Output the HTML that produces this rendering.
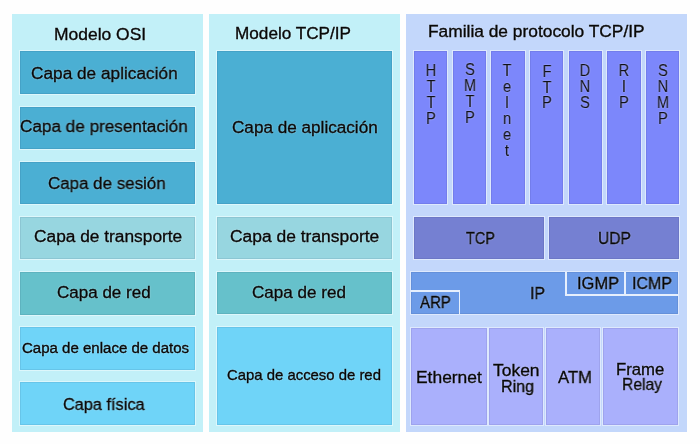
<!DOCTYPE html><html><head><meta charset="utf-8"><style>
html,body{margin:0;padding:0;width:700px;height:444px;overflow:hidden;background:#fefefe}
body{position:relative;font-family:"Liberation Sans",sans-serif;color:#080808;-webkit-text-stroke:0.35px #080808;text-shadow:0 0 1.5px rgba(255,255,255,.75)}
.r{position:absolute}
.b{box-shadow:0 0 0 1px rgba(255,255,255,.45),inset 0 0 0 1px rgba(0,0,40,.07)}
.t{position:absolute;white-space:nowrap;transform-origin:0 0;line-height:1;will-change:transform}
.v{position:absolute;white-space:nowrap;line-height:1;text-align:center;width:40px;transform:scaleX(.92);-webkit-text-stroke:0.1px #101018;color:#101018;will-change:transform}
</style></head><body>
<div class="r" style="left:12px;top:14px;width:191px;height:418px;background:#c2f0f8"></div>
<div class="r" style="left:209px;top:14px;width:191px;height:418px;background:#c2f0f8"></div>
<div class="r" style="left:406px;top:14px;width:281px;height:418px;background:#c3d7fb"></div>
<div class="r b" style="left:20px;top:51px;width:175px;height:43px;background:#4bafd3"></div>
<div class="r b" style="left:20px;top:107px;width:175px;height:42px;background:#4bafd3"></div>
<div class="r b" style="left:20px;top:162px;width:175px;height:42px;background:#4bafd3"></div>
<div class="r b" style="left:20px;top:217px;width:175px;height:42px;background:#97d6e0"></div>
<div class="r b" style="left:20px;top:272px;width:175px;height:43px;background:#66c1cb"></div>
<div class="r b" style="left:20px;top:327px;width:175px;height:43px;background:#6fd4f8"></div>
<div class="r b" style="left:20px;top:382px;width:175px;height:43px;background:#6fd4f8"></div>
<div class="r b" style="left:217px;top:51px;width:175px;height:153px;background:#4bafd3"></div>
<div class="r b" style="left:217px;top:217px;width:175px;height:42px;background:#97d6e0"></div>
<div class="r b" style="left:217px;top:272px;width:175px;height:42.2px;background:#66c1cb"></div>
<div class="r b" style="left:217px;top:327px;width:175px;height:98px;background:#6fd4f8"></div>
<div class="r b" style="left:414px;top:51.4px;width:33.3px;height:152.6px;background:#7c87fb"></div>
<div class="r b" style="left:452.67px;top:51.4px;width:33.3px;height:152.6px;background:#7c87fb"></div>
<div class="r b" style="left:491.34px;top:51.4px;width:33.3px;height:152.6px;background:#7c87fb"></div>
<div class="r b" style="left:530.01px;top:51.4px;width:33.3px;height:152.6px;background:#7c87fb"></div>
<div class="r b" style="left:568.68px;top:51.4px;width:33.3px;height:152.6px;background:#7c87fb"></div>
<div class="r b" style="left:607.35px;top:51.4px;width:33.3px;height:152.6px;background:#7c87fb"></div>
<div class="r b" style="left:646.02px;top:51.4px;width:33.3px;height:152.6px;background:#7c87fb"></div>
<div class="r b" style="left:414px;top:217px;width:130px;height:41.5px;background:#7580d2"></div>
<div class="r b" style="left:549px;top:217px;width:130px;height:41.5px;background:#7580d2"></div>
<div class="r b" style="left:411px;top:272px;width:267.2px;height:42px;background:#6c9be8"></div>
<div class="r b" style="left:411px;top:327.5px;width:75.5px;height:97px;background:#aab0fc"></div>
<div class="r b" style="left:489px;top:327.5px;width:54px;height:97px;background:#aab0fc"></div>
<div class="r b" style="left:546px;top:327.5px;width:54px;height:97px;background:#aab0fc"></div>
<div class="r b" style="left:603px;top:327.5px;width:75px;height:97px;background:#aab0fc"></div>
<div class="r" style="left:411px;top:290.2px;width:49.3px;height:1.8px;background:#e6effd"></div>
<div class="r" style="left:458.5px;top:290.2px;width:1.8px;height:23.8px;background:#e6effd"></div>
<div class="r" style="left:565.2px;top:272px;width:1.8px;height:24px;background:#e6effd"></div>
<div class="r" style="left:565.2px;top:294.2px;width:113px;height:1.8px;background:#e6effd"></div>
<div class="r" style="left:624.4px;top:272px;width:1.8px;height:24px;background:#e6effd"></div>
<div class="t" style="left:54.3px;top:25.56px;font-size:17.3px;transform:scaleX(1.0097)">Modelo OSI</div>
<div class="t" style="left:234.63px;top:25.95px;font-size:16.96px;transform:scaleX(1.0131)">Modelo TCP/IP</div>
<div class="t" style="left:428.01px;top:23.06px;font-size:16.23px;transform:scaleX(1.0696)">Familia de protocolo TCP/IP</div>
<div class="t" style="left:31.44px;top:64.9px;font-size:17.25px;transform:scaleX(0.9989)">Capa de aplicación</div>
<div class="t" style="left:19.84px;top:118.26px;font-size:17.3px;transform:scaleX(0.9920)">Capa de presentación</div>
<div class="t" style="left:48.15px;top:174.56px;font-size:17.3px;transform:scaleX(0.9799)">Capa de sesión</div>
<div class="t" style="left:33.83px;top:227.56px;font-size:17.3px;transform:scaleX(1.0019)">Capa de transporte</div>
<div class="t" style="left:57.05px;top:284.89px;font-size:16.67px;transform:scaleX(1.0215)">Capa de red</div>
<div class="t" style="left:21.95px;top:342.25px;font-size:13.77px;transform:scaleX(1.0915)">Capa de enlace de datos</div>
<div class="t" style="left:62.58px;top:395.92px;font-size:17.1px;transform:scaleX(0.9545)">Capa física</div>
<div class="t" style="left:232.14px;top:119.99px;font-size:16.67px;transform:scaleX(1.0286)">Capa de aplicación</div>
<div class="t" style="left:229.83px;top:228.26px;font-size:17.3px;transform:scaleX(1.0088)">Capa de transporte</div>
<div class="t" style="left:252.05px;top:283.64px;font-size:16.38px;transform:scaleX(1.0430)">Capa de red</div>
<div class="t" style="left:226.55px;top:368.19px;font-size:14.78px;transform:scaleX(1.0080)">Capa de acceso de red</div>
<div class="t" style="left:466.11px;top:231.49px;font-size:16.67px;transform:scaleX(0.8660)">TCP</div>
<div class="t" style="left:597.81px;top:231.49px;font-size:16.67px;transform:scaleX(0.9356)">UDP</div>
<div class="t" style="left:530.36px;top:285.36px;font-size:17.3px;transform:scaleX(0.9230)">IP</div>
<div class="t" style="left:577.12px;top:275.71px;font-size:16.52px;transform:scaleX(0.9960)">IGMP</div>
<div class="t" style="left:632.16px;top:275.71px;font-size:16.52px;transform:scaleX(0.9682)">ICMP</div>
<div class="t" style="left:419.6px;top:294.67px;font-size:16.81px;transform:scaleX(0.8941)">ARP</div>
<div class="t" style="left:415.51px;top:369.51px;font-size:16.52px;transform:scaleX(1.0544)">Ethernet</div>
<div class="t" style="left:492.55px;top:362.65px;font-size:16.96px;transform:scaleX(1.0306)">Token</div>
<div class="t" style="left:501.41px;top:378.46px;font-size:16.23px;transform:scaleX(0.9912)">Ring</div>
<div class="t" style="left:557.7px;top:369.57px;font-size:16.81px;transform:scaleX(0.9906)">ATM</div>
<div class="t" style="left:615.66px;top:362.01px;font-size:16.52px;transform:scaleX(1.0128)">Frame</div>
<div class="t" style="left:621.75px;top:377.37px;font-size:16.81px;transform:scaleX(0.9319)">Relay</div>
<div class="v" style="left:410.7px;top:63.29px;font-size:15.6px">H</div>
<div class="v" style="left:410.7px;top:79.24px;font-size:15.6px">T</div>
<div class="v" style="left:410.7px;top:95.19px;font-size:15.6px">T</div>
<div class="v" style="left:410.7px;top:111.14px;font-size:15.6px">P</div>
<div class="v" style="left:450.1px;top:61.89px;font-size:15.6px">S</div>
<div class="v" style="left:450.1px;top:77.84px;font-size:15.6px">M</div>
<div class="v" style="left:450.1px;top:93.79px;font-size:15.6px">T</div>
<div class="v" style="left:450.1px;top:109.74px;font-size:15.6px">P</div>
<div class="v" style="left:487.4px;top:63.39px;font-size:15.6px">T</div>
<div class="v" style="left:487.4px;top:79.34px;font-size:15.6px">e</div>
<div class="v" style="left:487.4px;top:95.29px;font-size:15.6px">l</div>
<div class="v" style="left:487.4px;top:111.24px;font-size:15.6px">n</div>
<div class="v" style="left:487.4px;top:127.19px;font-size:15.6px">e</div>
<div class="v" style="left:487.4px;top:143.14px;font-size:15.6px">t</div>
<div class="v" style="left:526.7px;top:63.59px;font-size:15.6px">F</div>
<div class="v" style="left:526.7px;top:79.54px;font-size:15.6px">T</div>
<div class="v" style="left:526.7px;top:95.49px;font-size:15.6px">P</div>
<div class="v" style="left:565.4px;top:63.39px;font-size:15.6px">D</div>
<div class="v" style="left:565.4px;top:79.34px;font-size:15.6px">N</div>
<div class="v" style="left:565.4px;top:95.29px;font-size:15.6px">S</div>
<div class="v" style="left:604.1px;top:63.49px;font-size:15.6px">R</div>
<div class="v" style="left:604.1px;top:79.44px;font-size:15.6px">I</div>
<div class="v" style="left:604.1px;top:95.39px;font-size:15.6px">P</div>
<div class="v" style="left:642.8px;top:63.19px;font-size:15.6px">S</div>
<div class="v" style="left:642.8px;top:79.14px;font-size:15.6px">N</div>
<div class="v" style="left:642.8px;top:95.09px;font-size:15.6px">M</div>
<div class="v" style="left:642.8px;top:111.04px;font-size:15.6px">P</div>
</body></html>
